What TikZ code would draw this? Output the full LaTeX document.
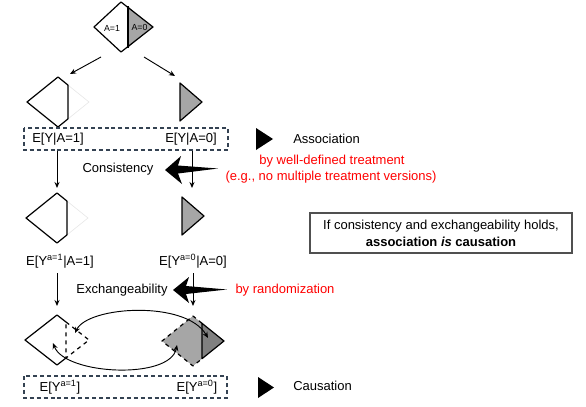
\documentclass[tikz,border=0pt]{standalone}
\usepackage{fontspec}
\setmainfont{Liberation Sans}
\usepackage{xcolor}
\definecolor{cgray}{RGB}{166,166,166}
\definecolor{cdark}{RGB}{128,128,128}
\definecolor{cred}{RGB}{255,0,0}
\definecolor{cslate}{RGB}{52,66,82}
\definecolor{cframe}{RGB}{80,80,80}
\definecolor{cfaint}{RGB}{232,232,232}
\usetikzlibrary{arrows.meta, positioning}
\tikzset{
  lbl/.style={font=\fontsize{9.75}{12.75}\selectfont, inner sep=0pt},
  redlbl/.style={lbl, text=cred},
  tinylbl/.style={font=\fontsize{6.6}{7}\selectfont, inner sep=0pt},
  dashbox/.style={draw=cslate, line width=1.1pt, dash pattern=on 3pt off 2.2pt},
  shapeline/.style={draw=black, line width=0.9pt, line join=round},
  conn/.style={-{Stealth[length=4.5pt,width=3.8pt]}, line width=0.7pt},
  loopconn/.style={{Stealth[length=4.5pt,width=3.8pt]}-{Stealth[length=4.5pt,width=3.8pt]}, line width=0.7pt},
}

\begin{document}
\begin{tikzpicture}[x=0.75pt, y=-0.75pt]
\useasboundingbox (0,0) rectangle (586,407);

% Whole population split by treatment
\fill[cgray] (128,6.4) -- (153,27) -- (128,47.6) -- cycle;
\draw[shapeline] (121,2) -- (153,27) -- (121,52) -- (94,27) -- cycle;
\draw[shapeline] (128,6.4) -- (128,47.6);
\node[tinylbl] (popA1) at (112,28) {A=1};
\node[tinylbl] (popA0) at (139.5,27) {A=0};
\coordinate (popL) at (101,57);
\coordinate (popR) at (144,57);

% Observed groups
\draw[cfaint, line width=0.5pt] (68,85.1) -- (89,102) -- (68,118.9);
\draw[shapeline] (68,85.1) -- (58,77) -- (27,102) -- (58,127) -- (68,118.9) -- cycle;
\draw[shapeline, fill=cgray] (180,83) -- (202,102) -- (180,121) -- cycle;
\coordinate (grpL) at (70,74);
\coordinate (grpR) at (175,76);
\draw[conn] (popL) -- (grpL);
\draw[conn] (popR) -- (grpR);

\draw[dashbox] (24,128) rectangle (228,150);
\node[lbl] (obsA1) at (58,139) {E[Y|A=1]};
\node[lbl] (obsA0) at (191,139) {E[Y|A=0]};
\fill (256,128) -- (273,139) -- (256,150) -- cycle;
\node[lbl, anchor=west] (assoc) at (293,139) {Association};

% Consistency
\coordinate (obsL) at (57,151);
\coordinate (obsR) at (192,151);
\coordinate (cfL) at (57,188);
\coordinate (cfR) at (192,188);
\fill (165,170) -- (181,156) -- (178,165.5) -- (218,168.5) -- (178,173.5) -- (182,184) -- cycle;
\draw[conn] (obsL) -- (cfL);
\draw[conn] (obsR) -- (cfR);
\node[lbl] (consist) at (118,169) {Consistency};
\node[redlbl] (welldef) at (332,161) {by well-defined treatment};
\node[redlbl] (versions) at (331,177) {(e.g., no multiple treatment versions)};

% Potential outcomes within each group
\draw[cfaint, line width=0.5pt] (67,201.1) -- (88,218) -- (67,234.9);
\draw[shapeline] (67,201.1) -- (57,193) -- (26,218) -- (57,243) -- (67,234.9) -- cycle;
\draw[shapeline, fill=cgray] (182,197) -- (204,216) -- (182,235) -- cycle;
\node[lbl] (poA1) at (60,261) {E[Y\textsuperscript{a=1}|A=1]};
\node[lbl] (poA0) at (193,261) {E[Y\textsuperscript{a=0}|A=0]};

\node[draw=cframe, line width=1pt, minimum width=196.5pt, minimum height=30pt, align=center, font=\fontsize{9.75}{12.75}\selectfont] (summary) at (441,233)
  {If consistency and exchangeability holds,\\ \textbf{association \textit{is} causation}};

% Exchangeability
\coordinate (poL) at (57,273);
\coordinate (poR) at (193,273);
\coordinate (exL) at (57,306);
\coordinate (exR) at (193,306);
\fill (173,290) -- (189,277) -- (186,286) -- (227,289.5) -- (186,294) -- (189,303) -- cycle;
\draw[conn] (poL) -- (exL);
\draw[conn] (poR) -- (exR);
\node[lbl] (exch) at (122,290) {Exchangeability};
\node[redlbl] (random) at (285,290) {by randomization};

% Counterfactual populations
\draw[shapeline] (66,322) -- (57,315) -- (25,340) -- (57,365) -- (66,358);
\draw[shapeline, dashed] (66,322) -- (89,340) -- (66,358) -- cycle;
\fill[cgray] (202,323.3) -- (193,316) -- (162,341) -- (193,366) -- (202,358.7) -- cycle;
\draw[shapeline, dashed] (202,323.3) -- (193,316) -- (162,341) -- (193,366) -- (202,358.7);
\draw[shapeline, fill=cdark] (202,323.3) -- (224,341) -- (202,358.7) -- cycle;
\coordinate (swapA) at (75,333);
\coordinate (swapB) at (208,338);
\coordinate (swapC) at (53,343);
\coordinate (swapD) at (177,345);
\draw[loopconn] (swapA) .. controls (88,306) and (186,300) .. (swapB);
\draw[loopconn] (swapC) .. controls (65,375) and (170,380) .. (swapD);

\draw[dashbox] (24,376) rectangle (227,398);
\node[lbl] (causA1) at (60,387) {E[Y\textsuperscript{a=1}]};
\node[lbl] (causA0) at (197,387) {E[Y\textsuperscript{a=0}]};
\fill (258,377) -- (274,387.5) -- (258,398) -- cycle;
\node[lbl, anchor=west] (caus) at (293,386) {Causation};
\end{tikzpicture}
\end{document}
